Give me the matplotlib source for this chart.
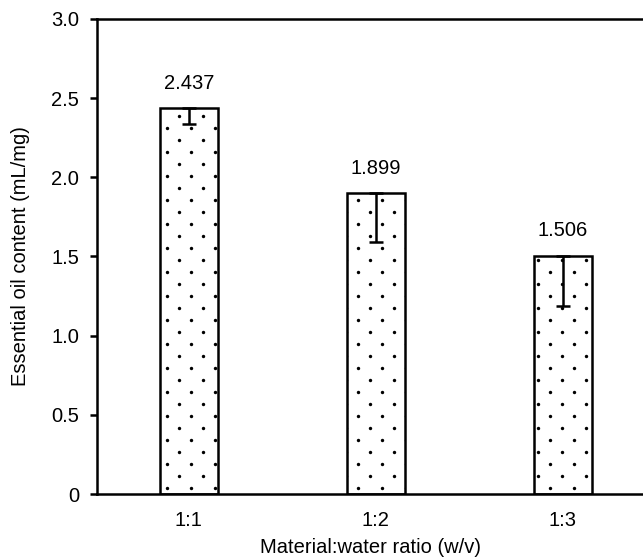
import numpy as np
import matplotlib.pyplot as plt

plt.rcParams['font.family'] = ['Liberation Sans', 'DejaVu Sans']

ratios = ["1:1", "1:2", "1:3"]
oil = [2.437, 1.899, 1.506]
err_low = [0.10, 0.31, 0.32]

fig = plt.figure(figsize=(6.43, 5.57), dpi=100)
ax = fig.add_axes([0.151, 0.113, 0.849, 0.853])

x = np.arange(len(ratios))
bars = ax.bar(x, oil, width=0.31, color='white', edgecolor='black',
              linewidth=1.8, zorder=2)
ax.errorbar(x, oil, yerr=[err_low, [0] * len(oil)], fmt='none',
            ecolor='black', elinewidth=1.8, capsize=5, capthick=1.8, zorder=4)

# staggered dot fill inside the bars
dx, dy = 0.064, 0.0758
gx, gy = np.meshgrid(np.arange(-0.5, 2.5, dx), np.arange(dy / 2, 3.0, dy))
ii, jj = np.meshgrid(np.arange(gx.shape[1]), np.arange(gx.shape[0]))
keep = (ii + jj) % 2 == 0
for b in bars:
    sc = ax.scatter(gx[keep], gy[keep], s=6, color='black', marker='o',
                    linewidths=0, zorder=3)
    sc.set_clip_path(b)

for xi, v in zip(x, oil):
    ax.annotate(f"{v:.3f}", (xi, v), xytext=(0, 11), textcoords='offset points',
                ha='center', va='bottom', fontsize=14.5)

ax.set_xlim(-0.49, 2.43)
ax.set_ylim(0, 3.0)
ax.set_yticks([0, 0.5, 1.0, 1.5, 2.0, 2.5, 3.0])
ax.set_yticklabels(["0", "0.5", "1.0", "1.5", "2.0", "2.5", "3.0"])
ax.set_xticks(x)
ax.set_xticklabels(ratios)

ax.tick_params(axis='y', direction='out', length=5, width=1.8, pad=8, labelsize=14.5)
ax.tick_params(axis='x', length=0, pad=12, labelsize=14.5)
ax.spines['right'].set_visible(False)
for s in ['left', 'top', 'bottom']:
    ax.spines[s].set_linewidth(1.8)

ax.set_xlabel("Material:water ratio (w/v)", fontsize=14.5, labelpad=6)
ax.set_ylabel("Essential oil content (mL/mg)", fontsize=14.5, labelpad=15)

fig.savefig("out.png", dpi=100)
